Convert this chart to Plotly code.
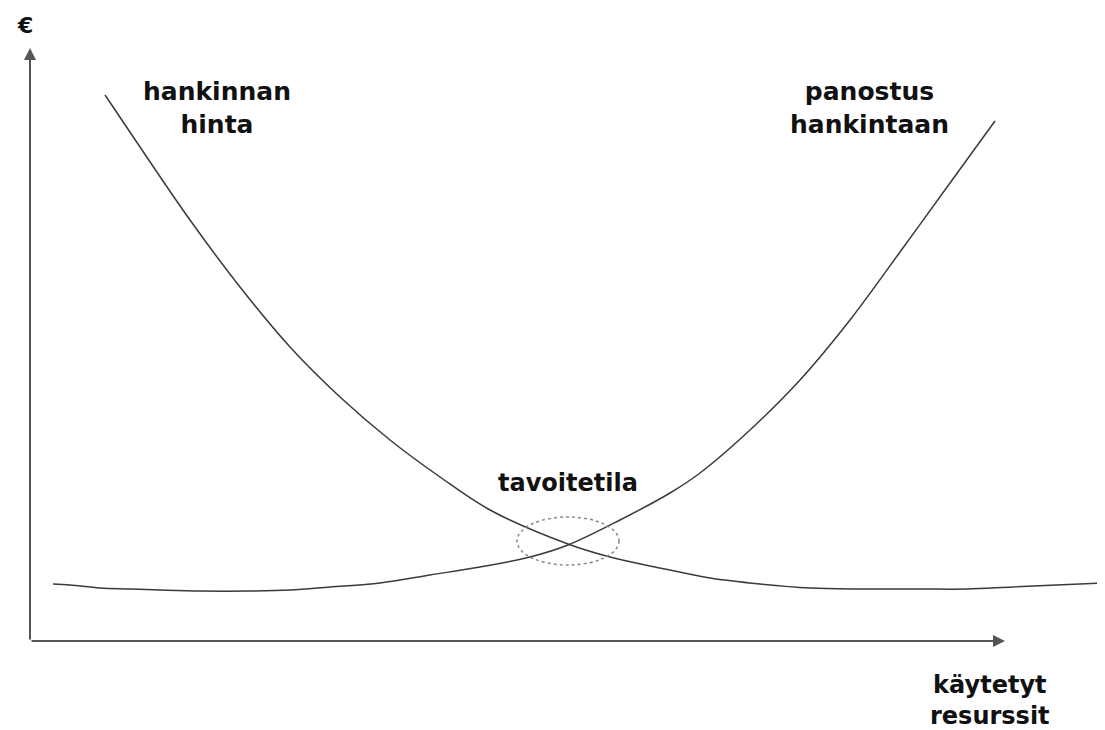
import plotly.graph_objects as go

# used resources (x) vs euros (y)
hinta_x = [75, 110, 160, 210, 260, 310, 360, 410, 460, 538, 580, 630, 680, 730, 780, 830, 890, 937, 983, 1075]
hinta_y = [546, 494, 421, 354, 294, 244, 201, 164, 131, 97, 84, 73, 63, 57, 53, 52, 52, 52, 54, 58]

panostus_x = [23, 40, 70, 100, 130, 170, 220, 260, 300, 350, 400, 450, 500, 538,
              590, 640, 670, 720, 770, 820, 870, 920, 965]
panostus_y = [57, 56, 53, 52, 51, 50, 50, 51, 54, 58, 66, 74, 84, 96,
              121, 148, 168, 211, 261, 321, 389, 458, 520]

# target zone around the crossing point
target_center = (538, 100)
target_radius = (51, 24)

axis_end_x = 975
axis_end_y = 593

labels = ["hankinnan<br>hinta", "panostus<br>hankintaan", "tavoitetila", "käytetyt<br>resurssit", "€"]
label_x = [187, 839, 538, 960, -5]
label_y = [533, 533, 158, -59, 616]
label_size = [25, 25, 24, 24, 22]

curve_line = dict(color="#3a3a3a", width=1.5, shape="spline", smoothing=1.0)

fig = go.Figure()
fig.add_trace(go.Scatter(x=hinta_x, y=hinta_y, mode="lines", line=curve_line, name="hankinnan hinta"))
fig.add_trace(go.Scatter(x=panostus_x, y=panostus_y, mode="lines", line=curve_line, name="panostus hankintaan"))

# the dotted ellipse
cx, cy = target_center
rx, ry = target_radius
fig.add_shape(type="circle", x0=cx - rx, x1=cx + rx, y0=cy - ry, y1=cy + ry,
              line=dict(color="#888888", width=1.5, dash="dot"))

# axes as arrows
for ex, ey in [(axis_end_x, 0), (0, axis_end_y)]:
    fig.add_annotation(x=ex, y=ey, ax=0, ay=0, xref="x", yref="y", axref="x", ayref="y",
                       text="", showarrow=True, arrowhead=2, arrowsize=1.2,
                       arrowwidth=2, arrowcolor="#555555")

for t, lx, ly, s in zip(labels, label_x, label_y, label_size):
    fig.add_annotation(x=lx, y=ly, text="<b>" + t + "</b>", showarrow=False,
                       font=dict(family="DejaVu Sans", size=s, color="#111111"),
                       align="center")

# page body has an 8px margin, ranges are shifted to make up for it
fig.update_layout(
    width=1105, height=730,
    margin=dict(l=0, r=0, t=0, b=0),
    paper_bgcolor="white", plot_bgcolor="white",
    showlegend=False,
    xaxis=dict(range=[-22, 1083], visible=False),
    yaxis=dict(range=[-97, 633], visible=False),
)

fig.write_html("out.html")
